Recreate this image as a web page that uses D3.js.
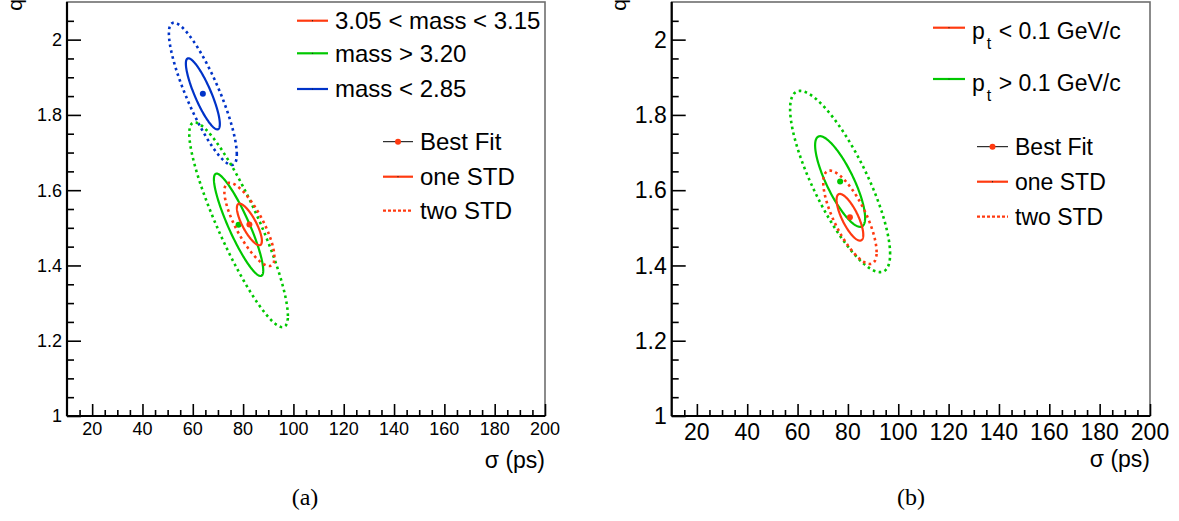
<!DOCTYPE html>
<html>
<head>
<meta charset="utf-8">
<script src="https://cdn.jsdelivr.net/npm/d3@7"></script>
<style>
  body { margin: 0; background: #fff; }
  svg { display: block; }
</style>
</head>
<body>
<div id="chart"></div>
<script>
// ---- values ----
const sigmaTicks = [20, 40, 60, 80, 100, 120, 140, 160, 180, 200];
const qTicks = [1, 1.2, 1.4, 1.6, 1.8, 2];
const contourLevels = [1, 2]; // one STD, two STD

// panel (a): mass windows
const massLabels = ["3.05 < mass < 3.15", "mass > 3.20", "mass < 2.85"];
const massSigma = [82.5, 78.2, 64.0];
const massQ = [1.509, 1.508, 1.856];
const massSigmaErr = [4.97, 9.8, 6.75];
const massQErr = [0.0553, 0.136, 0.0945];
const massRho = [-0.79, -0.89, -0.85];

// panel (b): pt cut
const ptLabels = ["< 0.1 GeV/c", "> 0.1 GeV/c"];
const ptSigma = [80.8, 76.9];
const ptQ = [1.528, 1.623];
const ptSigmaErr = [5.3, 9.93];
const ptQErr = [0.062, 0.1204];
const ptRho = [-0.75, -0.8];

const seriesColors = ["#ff3a10", "#00c800", "#0033c8"];
const styleLabels = ["Best Fit", "one STD", "two STD"];

const font = "'Liberation Sans', Arial, Helvetica, sans-serif";
const dotted = "2.6,3.4";

const svg = d3.select("#chart").append("svg")
  .attr("width", 1179).attr("height", 521)
  .attr("font-family", font);

function buildSeries(labels, sig, q, se, qe, rho) {
  return labels.map((label, i) => ({
    label, color: seriesColors[i],
    mx: sig[i], my: q[i], sx: se[i], sy: qe[i], rho: rho[i]
  }));
}

// ellipse points of a correlated gaussian at k standard deviations
function ellipse(s, k) {
  const c = Math.sqrt(1 - s.rho * s.rho);
  return d3.range(0, 181).map(j => {
    const t = j / 180 * 2 * Math.PI;
    return [s.mx + k * s.sx * Math.cos(t),
            s.my + k * s.sy * (s.rho * Math.cos(t) + c * Math.sin(t))];
  });
}

function drawPanel(cfg) {
  const x = d3.scaleLinear().domain([10, 200]).range([cfg.left, cfg.right]);
  const y = d3.scaleLinear().domain([1, 2.1]).range([cfg.bottom, cfg.top]);
  const g = svg.append("g");

  // frame
  g.append("rect")
    .attr("x", cfg.left).attr("y", cfg.top)
    .attr("width", cfg.right - cfg.left).attr("height", cfg.bottom - cfg.top)
    .attr("fill", "none").attr("stroke", "#6e6e6e").attr("stroke-width", 1.6);

  // contours
  const line = d3.line().x(d => x(d[0])).y(d => y(d[1])).curve(d3.curveLinearClosed);
  cfg.series.slice().reverse().forEach(s => {
    contourLevels.forEach(k => {
      g.append("path")
        .attr("d", line(ellipse(s, k)))
        .attr("fill", "none")
        .attr("stroke", s.color)
        .attr("stroke-width", k === 1 ? 2.2 : 2.6)
        .attr("stroke-dasharray", k === 1 ? null : dotted);
    });
    g.append("circle")
      .attr("cx", x(s.mx)).attr("cy", y(s.my)).attr("r", 3)
      .attr("fill", s.color);
  });

  // axes (ticks inside, ROOT style)
  const xAxis = g.append("g").attr("transform", `translate(0,${cfg.bottom})`);
  xAxis.call(d3.axisBottom(x).tickValues(d3.range(15, 201, 5)).tickSize(-6).tickFormat(""));
  xAxis.selectAll(".tick line").filter(d => d % 20 === 0).attr("y2", -12);
  xAxis.select(".domain").remove();
  xAxis.selectAll("line").attr("stroke", "#000").attr("stroke-width", 1.6);
  xAxis.selectAll(".tick text").remove();

  const yAxis = g.append("g").attr("transform", `translate(${cfg.left},0)`);
  yAxis.call(d3.axisLeft(y).tickValues(d3.range(0, 22).map(i => 1 + i * 0.05)).tickSize(-7).tickFormat(""));
  yAxis.selectAll(".tick line").filter(d => Math.abs(d * 5 - Math.round(d * 5)) < 1e-6).attr("x2", 14);
  yAxis.select(".domain").remove();
  yAxis.selectAll("line").attr("stroke", "#000").attr("stroke-width", 1.6);
  yAxis.selectAll(".tick text").remove();

  g.append("line")
    .attr("x1", cfg.left).attr("x2", cfg.right)
    .attr("y1", cfg.bottom).attr("y2", cfg.bottom)
    .attr("stroke", "#000").attr("stroke-width", 2.2);
  g.append("line")
    .attr("x1", cfg.left).attr("x2", cfg.left)
    .attr("y1", cfg.top).attr("y2", cfg.bottom)
    .attr("stroke", "#000").attr("stroke-width", 2.2);

  g.selectAll(".xlab").data(sigmaTicks).join("text")
    .attr("x", d => x(d)).attr("y", cfg.bottom + cfg.xLabDy)
    .attr("text-anchor", "middle").attr("font-size", cfg.tickFont)
    .text(d => d);
  g.selectAll(".ylab").data(qTicks).join("text")
    .attr("x", cfg.left - 5).attr("y", d => y(d))
    .attr("dy", "0.36em")
    .attr("text-anchor", "end").attr("font-size", cfg.tickFont)
    .text(d => d);

  // titles
  g.append("text")
    .attr("transform", `translate(${cfg.qX},${cfg.top - 3}) rotate(-90)`)
    .attr("text-anchor", "end").attr("font-size", 21).text("q");
  g.append("text")
    .attr("x", cfg.right).attr("y", cfg.sigY)
    .attr("text-anchor", "end").attr("font-size", 23).text("σ (ps)");
  g.append("text")
    .attr("x", cfg.capX).attr("y", 505)
    .attr("text-anchor", "middle")
    .attr("font-family", "'Liberation Serif', 'DejaVu Serif', serif")
    .attr("font-size", 24).text(cfg.caption);

  // legend: series
  const lg = cfg.legend;
  cfg.series.forEach((s, i) => {
    const ly = lg.rows[i];
    g.append("line")
      .attr("x1", lg.x1).attr("x2", lg.x2).attr("y1", ly).attr("y2", ly)
      .attr("stroke", s.color).attr("stroke-width", 2.2);
    g.append("circle").attr("cx", (lg.x1 + lg.x2) / 2).attr("cy", ly).attr("r", 0.6).attr("fill", "#222");
    const t = g.append("text")
      .attr("x", lg.x2 + 7).attr("y", ly + lg.baseDy)
      .attr("font-size", lg.font);
    if (cfg.pt) {
      t.append("tspan").text("p");
      t.append("tspan").attr("dy", 10).attr("dx", 2).attr("font-size", 16).text("t");
      t.append("tspan").attr("dy", -10).attr("dx", 1).text(" " + s.label);
    } else {
      t.text(s.label);
    }
  });

  // legend: styles
  styleLabels.forEach((label, i) => {
    const ly = lg.styleRows[i];
    const red = seriesColors[0];
    const l = g.append("line")
      .attr("x1", lg.sx1).attr("x2", lg.sx2).attr("y1", ly).attr("y2", ly);
    if (i === 0) {
      l.attr("stroke", "#000").attr("stroke-width", 1);
      g.append("circle").attr("cx", (lg.sx1 + lg.sx2) / 2).attr("cy", ly).attr("r", 3).attr("fill", red);
    } else {
      l.attr("stroke", red).attr("stroke-width", 2.2)
        .attr("stroke-dasharray", i === 2 ? "3,2" : null);
      if (i === 1) g.append("circle").attr("cx", (lg.sx1 + lg.sx2) / 2).attr("cy", ly).attr("r", 0.6).attr("fill", "#222");
    }
    g.append("text")
      .attr("x", lg.sx2 + 7).attr("y", ly + lg.styleDy)
      .attr("font-size", lg.font).text(label);
  });
}

drawPanel({
  left: 67, right: 545, top: 2, bottom: 416,
  tickFont: 18, xLabDy: 19, qX: 22, sigY: 468, capX: 305, caption: "(a)",
  series: buildSeries(massLabels, massSigma, massQ, massSigmaErr, massQErr, massRho),
  legend: {
    x1: 297, x2: 328, rows: [20.7, 53.3, 89], baseDy: 8.4, font: 24,
    sx1: 383, sx2: 413, styleRows: [141.7, 176.7, 210.7], styleDy: 8.4
  }
});

drawPanel({
  left: 671.7, right: 1150, top: 2, bottom: 416,
  tickFont: 23, xLabDy: 24, qX: 626, sigY: 467, capX: 911, caption: "(b)", pt: true,
  series: buildSeries(ptLabels, ptSigma, ptQ, ptSigmaErr, ptQErr, ptRho),
  legend: {
    x1: 933, x2: 965, rows: [27.7, 79], baseDy: 11.5, font: 23,
    sx1: 977, sx2: 1008, styleRows: [146.7, 181.7, 216.7], styleDy: 8.2
  }
});
</script>
</body>
</html>
